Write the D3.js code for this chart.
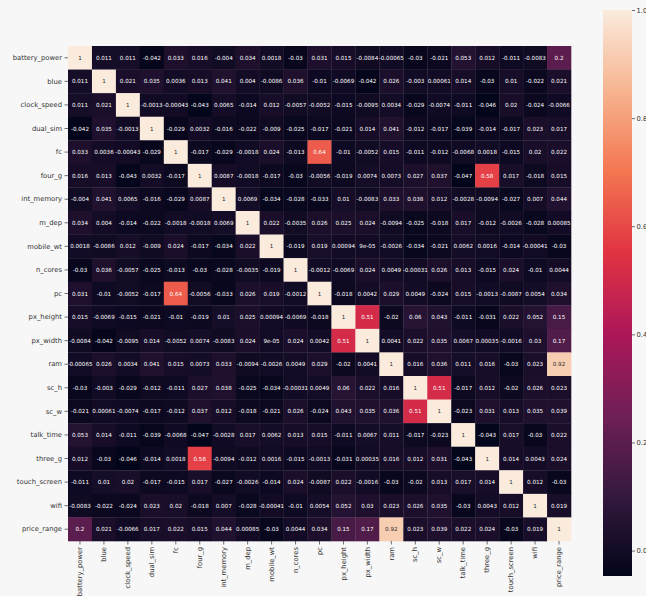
<!DOCTYPE html>
<html>
<head>
<meta charset="utf-8">
<script src="https://cdn.jsdelivr.net/npm/d3@7"></script>
<style>
html,body{margin:0;padding:0;background:#f7f7f7;}
svg{display:block;}
text{font-family:"DejaVu Sans",sans-serif;}
</style>
</head>
<body>
<svg id="chart" width="646" height="596"></svg>
<script>
const labels = ["battery_power","blue","clock_speed","dual_sim","fc","four_g","int_memory","m_dep","mobile_wt","n_cores","pc","px_height","px_width","ram","sc_h","sc_w","talk_time","three_g","touch_screen","wifi","price_range"];

const battery_power = [1,0.011,0.011,-0.042,0.033,0.016,-0.004,0.034,0.0018,-0.03,0.031,0.015,-0.0084,-0.00065,-0.03,-0.021,0.053,0.012,-0.011,-0.0083,0.2];
const blue          = [0.011,1,0.021,0.035,0.0036,0.013,0.041,0.004,-0.0086,0.036,-0.01,-0.0069,-0.042,0.026,-0.003,0.00061,0.014,-0.03,0.01,-0.022,0.021];
const clock_speed   = [0.011,0.021,1,-0.0013,-0.00043,-0.043,0.0065,-0.014,0.012,-0.0057,-0.0052,-0.015,-0.0095,0.0034,-0.029,-0.0074,-0.011,-0.046,0.02,-0.024,-0.0066];
const dual_sim      = [-0.042,0.035,-0.0013,1,-0.029,0.0032,-0.016,-0.022,-0.009,-0.025,-0.017,-0.021,0.014,0.041,-0.012,-0.017,-0.039,-0.014,-0.017,0.023,0.017];
const fc            = [0.033,0.0036,-0.00043,-0.029,1,-0.017,-0.029,-0.0018,0.024,-0.013,0.64,-0.01,-0.0052,0.015,-0.011,-0.012,-0.0068,0.0018,-0.015,0.02,0.022];
const four_g        = [0.016,0.013,-0.043,0.0032,-0.017,1,0.0087,-0.0018,-0.017,-0.03,-0.0056,-0.019,0.0074,0.0073,0.027,0.037,-0.047,0.58,0.017,-0.018,0.015];
const int_memory    = [-0.004,0.041,0.0065,-0.016,-0.029,0.0087,1,0.0069,-0.034,-0.028,-0.033,0.01,-0.0083,0.033,0.038,0.012,-0.0028,-0.0094,-0.027,0.007,0.044];
const m_dep         = [0.034,0.004,-0.014,-0.022,-0.0018,-0.0018,0.0069,1,0.022,-0.0035,0.026,0.025,0.024,-0.0094,-0.025,-0.018,0.017,-0.012,-0.0026,-0.028,0.00085];
const mobile_wt     = [0.0018,-0.0086,0.012,-0.009,0.024,-0.017,-0.034,0.022,1,-0.019,0.019,0.00094,9e-5,-0.0026,-0.034,-0.021,0.0062,0.0016,-0.014,-0.00041,-0.03];
const n_cores       = [-0.03,0.036,-0.0057,-0.025,-0.013,-0.03,-0.028,-0.0035,-0.019,1,-0.0012,-0.0069,0.024,0.0049,-0.00031,0.026,0.013,-0.015,0.024,-0.01,0.0044];
const pc            = [0.031,-0.01,-0.0052,-0.017,0.64,-0.0056,-0.033,0.026,0.019,-0.0012,1,-0.018,0.0042,0.029,0.0049,-0.024,0.015,-0.0013,-0.0087,0.0054,0.034];
const px_height     = [0.015,-0.0069,-0.015,-0.021,-0.01,-0.019,0.01,0.025,0.00094,-0.0069,-0.018,1,0.51,-0.02,0.06,0.043,-0.011,-0.031,0.022,0.052,0.15];
const px_width      = [-0.0084,-0.042,-0.0095,0.014,-0.0052,0.0074,-0.0083,0.024,9e-5,0.024,0.0042,0.51,1,0.0041,0.022,0.035,0.0067,0.00035,-0.0016,0.03,0.17];
const ram           = [-0.00065,0.026,0.0034,0.041,0.015,0.0073,0.033,-0.0094,-0.0026,0.0049,0.029,-0.02,0.0041,1,0.016,0.036,0.011,0.016,-0.03,0.023,0.92];
const sc_h          = [-0.03,-0.003,-0.029,-0.012,-0.011,0.027,0.038,-0.025,-0.034,-0.00031,0.0049,0.06,0.022,0.016,1,0.51,-0.017,0.012,-0.02,0.026,0.023];
const sc_w          = [-0.021,0.00061,-0.0074,-0.017,-0.012,0.037,0.012,-0.018,-0.021,0.026,-0.024,0.043,0.035,0.036,0.51,1,-0.023,0.031,0.013,0.035,0.039];
const talk_time     = [0.053,0.014,-0.011,-0.039,-0.0068,-0.047,-0.0028,0.017,0.0062,0.013,0.015,-0.011,0.0067,0.011,-0.017,-0.023,1,-0.043,0.017,-0.03,0.022];
const three_g       = [0.012,-0.03,-0.046,-0.014,0.0018,0.58,-0.0094,-0.012,0.0016,-0.015,-0.0013,-0.031,0.00035,0.016,0.012,0.031,-0.043,1,0.014,0.0043,0.024];
const touch_screen  = [-0.011,0.01,0.02,-0.017,-0.015,0.017,-0.027,-0.0026,-0.014,0.024,-0.0087,0.022,-0.0016,-0.03,-0.02,0.013,0.017,0.014,1,0.012,-0.03];
const wifi          = [-0.0083,-0.022,-0.024,0.023,0.02,-0.018,0.007,-0.028,-0.00041,-0.01,0.0054,0.052,0.03,0.023,0.026,0.035,-0.03,0.0043,0.012,1,0.019];
const price_range   = [0.2,0.021,-0.0066,0.017,0.022,0.015,0.044,0.00085,-0.03,0.0044,0.034,0.15,0.17,0.92,0.023,0.039,0.022,0.024,-0.03,0.019,1];

const rows = [battery_power,blue,clock_speed,dual_sim,fc,four_g,int_memory,m_dep,mobile_wt,n_cores,pc,px_height,px_width,ram,sc_h,sc_w,talk_time,three_g,touch_screen,wifi,price_range];
const colorbarTicks = [0,0.2,0.4,0.6,0.8,1.0];

// rocket-like colormap stops
const rocketStops = [0,1/7,2/7,3/7,4/7,5/7,6/7,1];
const rocketColors = ["#03051a","#35193e","#701f57","#ad1759","#e13342","#f37651","#f6b48f","#faebdd"];

const cells = [];
rows.forEach((r,i)=>r.forEach((v,j)=>cells.push({row:labels[i],col:labels[j],v})));
const vmin = d3.min(cells,d=>d.v), vmax = d3.max(cells,d=>d.v);

const color = d3.scaleLinear()
  .domain(rocketStops.map(t=>vmin + t*(vmax-vmin)))
  .range(rocketColors)
  .interpolate(d3.interpolateRgb);

const svg = d3.select("#chart");
const x = d3.scaleBand().domain(labels).range([68,571]);
const y = d3.scaleBand().domain(labels).range([46,541]);

svg.append("g").selectAll("rect").data(cells).join("rect")
  .attr("x",d=>x(d.col)).attr("y",d=>y(d.row))
  .attr("width",x.bandwidth()+0.3).attr("height",y.bandwidth()+0.3)
  .attr("fill",d=>color(d.v));

function fmt(v){
  if (v===0) return "0";
  const e = Math.floor(Math.log10(Math.abs(v)));
  let s;
  if (e < -4) {
    let [m,ex] = v.toExponential(1).split("e");
    m = m.replace(/\.0$/,"");
    const n = parseInt(ex,10);
    s = m + "e" + (n<0?"-":"+") + String(Math.abs(n)).padStart(2,"0");
  } else {
    s = d3.format(".2~g")(v);
  }
  return s.replace("\u2212","-");
}
function lum(c){
  const rgb = d3.rgb(c);
  const f = u=>{u/=255;return u<=0.03928?u/12.92:Math.pow((u+0.055)/1.055,2.4);};
  return 0.2126*f(rgb.r)+0.7152*f(rgb.g)+0.0722*f(rgb.b);
}

svg.append("g").selectAll("text").data(cells).join("text")
  .attr("x",d=>x(d.col)+x.bandwidth()/2)
  .attr("y",d=>y(d.row)+y.bandwidth()/2)
  .attr("text-anchor","middle").attr("dominant-baseline","central")
  .attr("font-size",5.6)
  .attr("fill",d=>lum(color(d.v))>0.408?"#262626":"#ffffff")
  .text(d=>fmt(d.v));

// axes
const yAxis = svg.append("g").attr("transform","translate(68,0)")
  .call(d3.axisLeft(y).tickSize(3.5).tickPadding(2.5));
yAxis.select(".domain").remove();
yAxis.selectAll("text").attr("font-size",6.8).attr("fill","#333").attr("font-family","DejaVu Sans");
yAxis.selectAll("line").attr("stroke","#333").attr("stroke-width",0.7);

const xAxis = svg.append("g").attr("transform","translate(0,541)")
  .call(d3.axisBottom(x).tickSize(3.5).tickPadding(2.5));
xAxis.select(".domain").remove();
xAxis.selectAll("text").attr("font-size",6.8).attr("fill","#333").attr("font-family","DejaVu Sans")
  .attr("transform","rotate(-90)").attr("text-anchor","end")
  .attr("x",-6).attr("y",0).attr("dy","0.32em");
xAxis.selectAll("line").attr("stroke","#333").attr("stroke-width",0.7);

// colorbar
const cb = d3.scaleLinear().domain([vmin,vmax]).range([576,10]);
const defs = svg.append("defs");
const grad = defs.append("linearGradient").attr("id","cbgrad")
  .attr("x1","0").attr("y1","1").attr("x2","0").attr("y2","0");
rocketStops.forEach((t,i)=>grad.append("stop").attr("offset",t).attr("stop-color",rocketColors[i]));
svg.append("rect").attr("x",603).attr("y",10).attr("width",29).attr("height",566).attr("fill","url(#cbgrad)");
const cAxis = svg.append("g").attr("transform","translate(632,0)")
  .call(d3.axisRight(cb).tickValues(colorbarTicks).tickFormat(d3.format(".1f")).tickSize(3).tickPadding(1.5));
cAxis.select(".domain").remove();
cAxis.selectAll("text").attr("font-size",6.8).attr("fill","#333").attr("font-family","DejaVu Sans");
cAxis.selectAll("line").attr("stroke","#333").attr("stroke-width",0.7);
</script>
</body>
</html>
